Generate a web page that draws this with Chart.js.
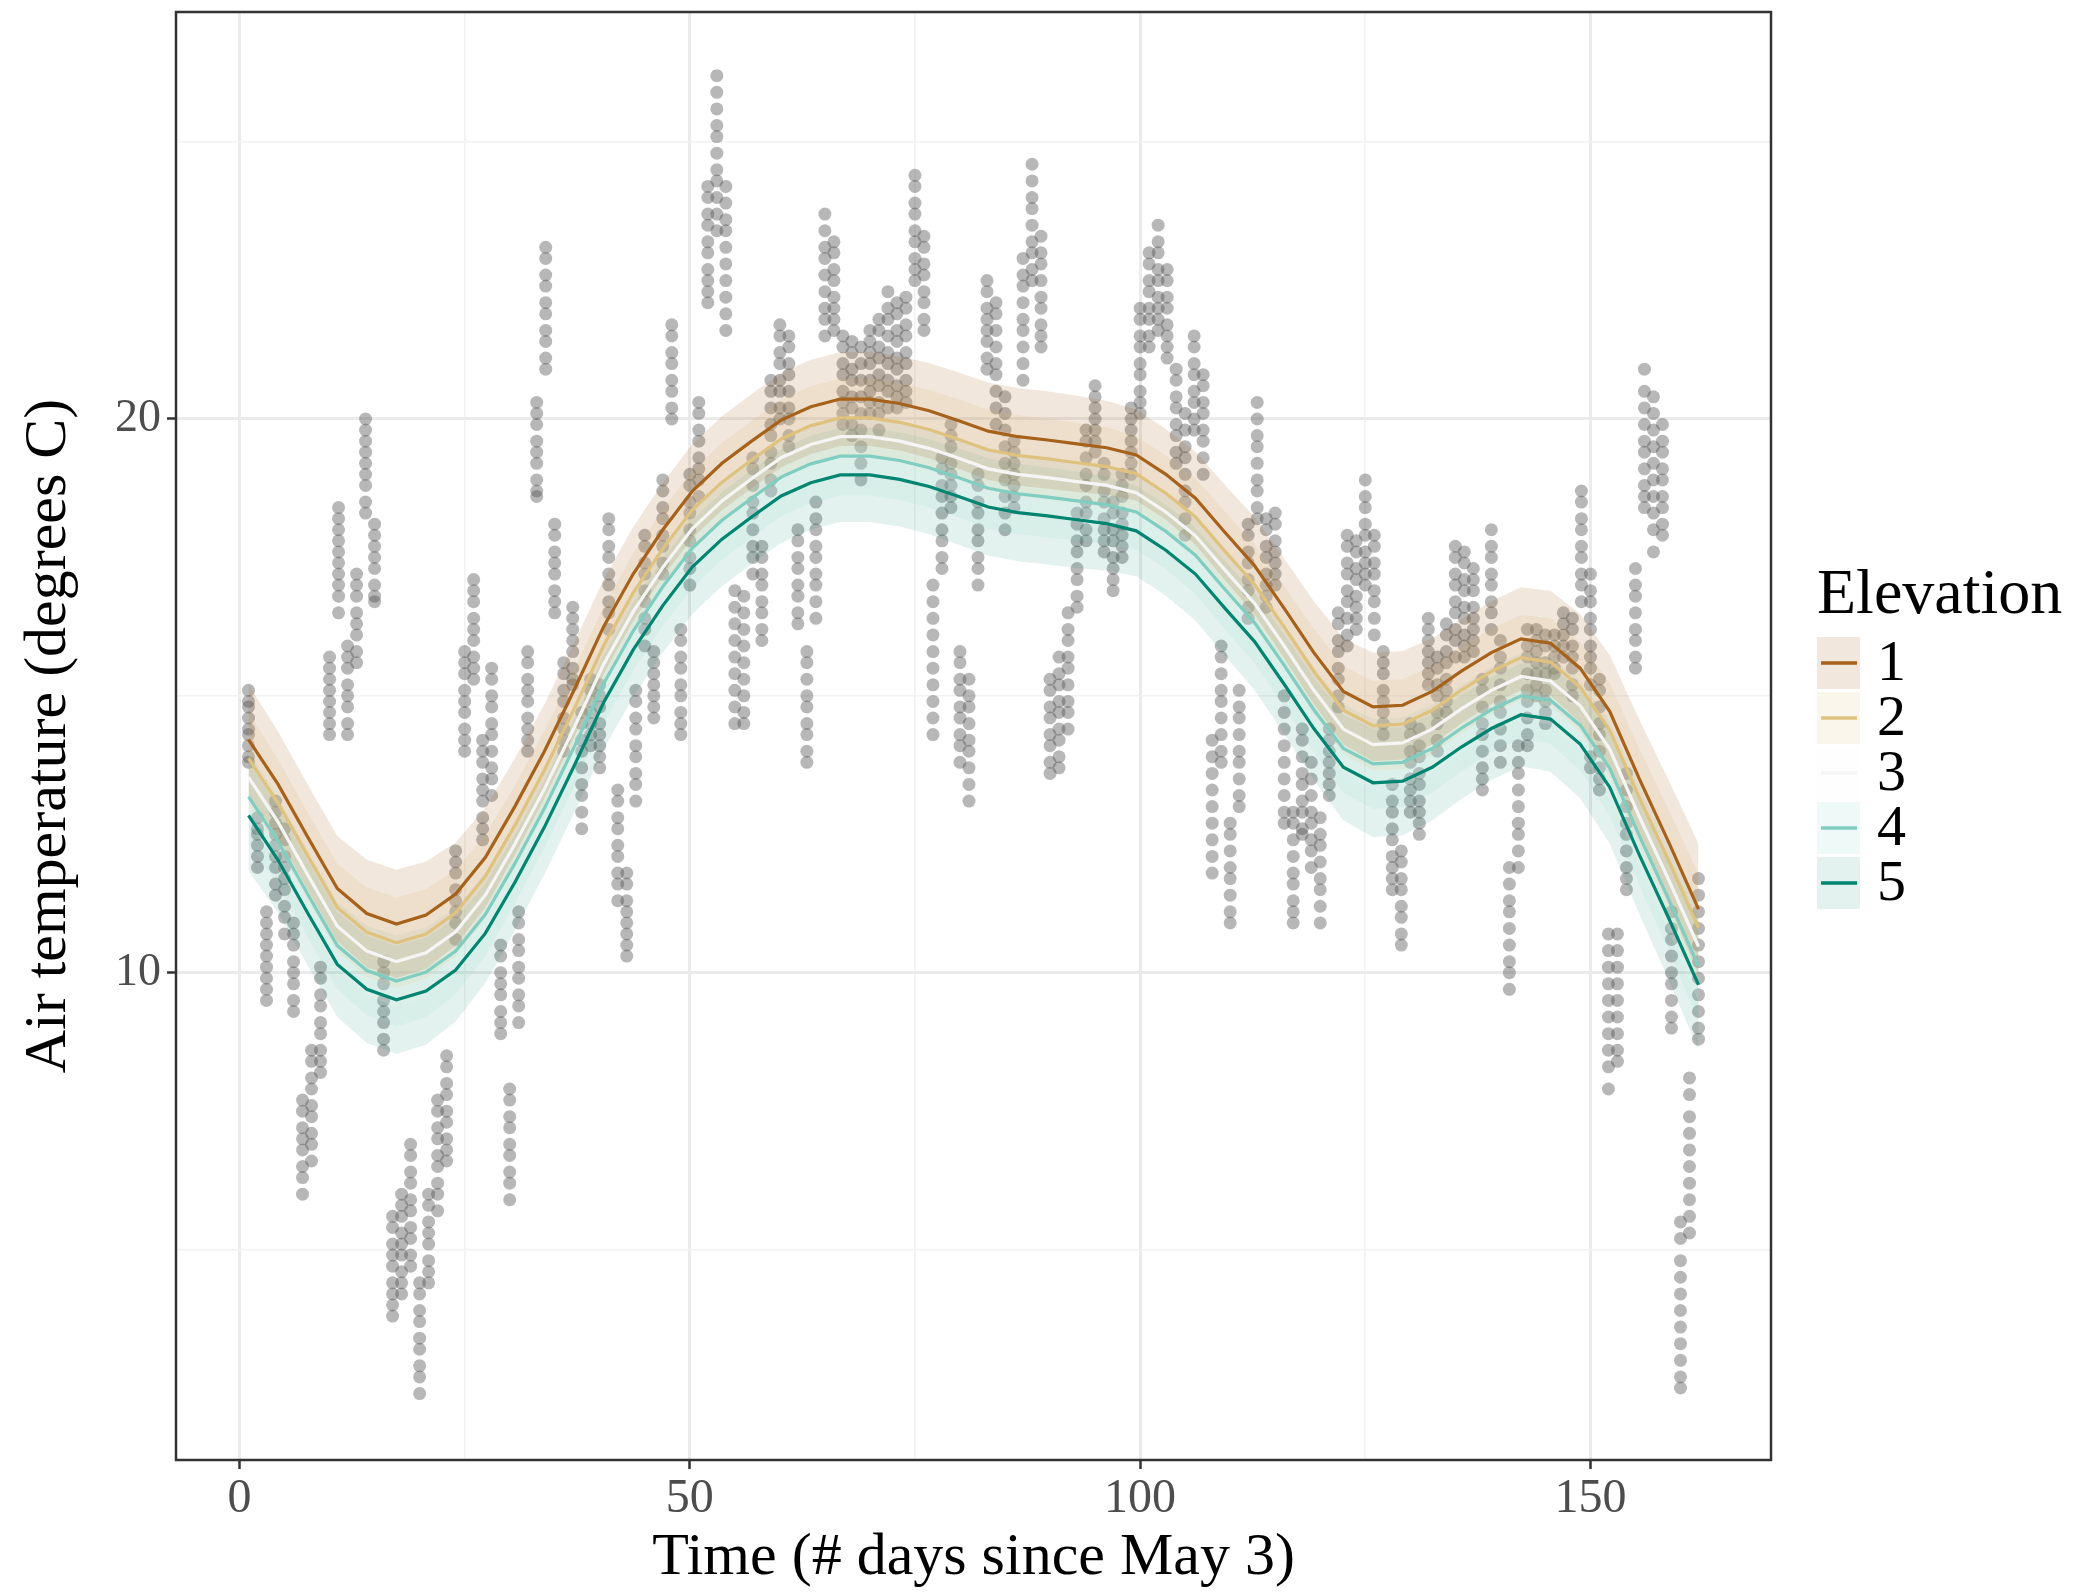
<!DOCTYPE html>
<html>
<head>
<meta charset="utf-8">
<title>Air temperature by elevation</title>
<script src="https://cdn.jsdelivr.net/npm/chart.js@4.4.1/dist/chart.umd.min.js"></script>
<style>
  html, body { margin: 0; padding: 0; background: #ffffff; }
  #wrap { width: 2074px; height: 1594px; }
</style>
</head>
<body>
<div id="wrap"><canvas id="airTemp" width="2074" height="1594"></canvas></div>
<script>
// ---- observed air temperatures, one column of readings per day ----
const obsDays = [
  1, 2, 3, 4, 5, 6, 7, 8, 9, 10, 11, 12, 13, 14, 15, 16, 17, 18, 19, 20,
  21, 22, 23, 24, 25, 26, 27, 28, 29, 30, 31, 32, 33, 34, 35, 36, 37, 38, 39, 40,
  41, 42, 43, 44, 45, 46, 47, 48, 49, 50, 51, 52, 53, 54, 55, 56, 57, 58, 59, 60,
  61, 62, 63, 64, 65, 66, 67, 68, 69, 70, 71, 72, 73, 74, 75, 76, 77, 78, 79, 80,
  81, 82, 83, 84, 85, 86, 87, 88, 89, 90, 91, 92, 93, 94, 95, 96, 97, 98, 99, 100,
  101, 102, 103, 104, 105, 106, 107, 108, 109, 110, 111, 112, 113, 114, 115, 116, 117, 118, 119, 120,
  121, 122, 123, 124, 125, 126, 127, 128, 129, 130, 131, 132, 133, 134, 135, 136, 137, 138, 139, 140,
  141, 142, 143, 144, 145, 146, 147, 148, 149, 150, 151, 152, 153, 154, 155, 156, 157, 158, 159, 160,
  161, 162
];

const obsTemps = [
  [15.1, 14.9, 14.8, 14.6, 14.4, 14.3, 14.1, 13.9, 13.8],
  [12.8, 12.6, 12.5, 12.3, 12.1, 11.9],
  [11.1, 10.9, 10.7, 10.5, 10.3, 10.1, 9.9, 9.7, 9.5],
  [13.1, 12.9, 12.7, 12.5, 12.3, 12.1, 11.9, 11.6, 11.4],
  [12.6, 12.4, 12.1, 11.9, 11.7, 11.5, 11.2, 11.0, 10.7],
  [10.9, 10.7, 10.5, 10.2, 10.0, 9.8, 9.5, 9.3],
  [7.7, 7.5, 7.2, 7.0, 6.8, 6.5, 6.3, 6.0],
  [8.6, 8.4, 8.1, 7.9, 7.6, 7.4, 7.1, 6.9, 6.6],
  [10.1, 9.9, 9.6, 9.4, 9.1, 8.9, 8.6, 8.4, 8.2],
  [15.7, 15.5, 15.3, 15.1, 14.9, 14.7, 14.5, 14.3],
  [18.4, 18.2, 18.0, 17.8, 17.6, 17.4, 17.2, 17.0, 16.8, 16.5],
  [15.9, 15.7, 15.5, 15.2, 15.0, 14.8, 14.5, 14.3],
  [17.2, 17.0, 16.8, 16.5, 16.3, 16.1, 15.8, 15.6],
  [20.0, 19.8, 19.6, 19.4, 19.2, 19.0, 18.8, 18.5, 18.3],
  [18.1, 17.9, 17.7, 17.5, 17.3, 17.0, 16.8, 16.7],
  [10.2, 10.0, 9.8, 9.5, 9.3, 9.1, 8.8, 8.6],
  [5.6, 5.4, 5.1, 4.9, 4.7, 4.4, 4.2, 4.0, 3.8],
  [6.0, 5.8, 5.6, 5.3, 5.1, 4.9, 4.6, 4.4, 4.2],
  [6.9, 6.7, 6.4, 6.2, 5.9, 5.7, 5.4, 5.2, 4.9, 4.7],
  [4.4, 4.2, 3.9, 3.7, 3.4, 3.2, 2.9, 2.7, 2.4],
  [6.0, 5.8, 5.5, 5.3, 5.1, 4.8, 4.6, 4.4],
  [7.7, 7.5, 7.2, 7.0, 6.7, 6.5, 6.2, 6.0, 5.7],
  [8.5, 8.3, 8.0, 7.8, 7.5, 7.3, 7.0, 6.8, 6.6],
  [12.2, 12.0, 11.8, 11.5, 11.3, 11.1, 10.9, 10.6],
  [15.8, 15.6, 15.4, 15.1, 14.9, 14.7, 14.4, 14.2, 14.0],
  [17.1, 16.9, 16.7, 16.4, 16.2, 16.0, 15.7, 15.5, 15.3],
  [14.2, 14.0, 13.8, 13.5, 13.3, 13.1, 12.8, 12.6, 12.4],
  [15.5, 15.3, 15.0, 14.8, 14.5, 14.3, 14.0, 13.7, 13.5, 13.2],
  [10.5, 10.3, 10.0, 9.8, 9.6, 9.3, 9.1, 8.9],
  [7.9, 7.7, 7.4, 7.2, 6.9, 6.7, 6.4, 6.2, 5.9],
  [11.1, 10.9, 10.6, 10.4, 10.1, 9.9, 9.6, 9.4, 9.1],
  [15.8, 15.6, 15.3, 15.1, 14.9, 14.6, 14.4, 14.2, 14.0],
  [20.3, 20.1, 19.9, 19.6, 19.4, 19.2, 18.9, 18.7, 18.6],
  [23.1, 22.9, 22.6, 22.4, 22.1, 21.9, 21.6, 21.4, 21.1, 20.9],
  [18.1, 17.9, 17.6, 17.4, 17.2, 16.9, 16.7, 16.5],
  [15.6, 15.4, 15.1, 14.9, 14.6, 14.4, 14.2, 14.0],
  [16.6, 16.4, 16.2, 16.0, 15.8, 15.5, 15.3, 15.2],
  [14.7, 14.5, 14.2, 14.0, 13.7, 13.4, 13.2, 12.9, 12.6],
  [15.3, 15.1, 14.9, 14.7, 14.5, 14.3, 14.1],
  [15.2, 15.0, 14.8, 14.5, 14.3, 14.1, 13.9, 13.7],
  [18.2, 18.0, 17.7, 17.5, 17.2, 17.0, 16.7, 16.5, 16.2],
  [13.3, 13.1, 12.8, 12.6, 12.3, 12.1, 11.8, 11.6, 11.3],
  [11.8, 11.6, 11.3, 11.1, 10.9, 10.7, 10.5, 10.3],
  [15.1, 14.9, 14.6, 14.4, 14.1, 13.9, 13.6, 13.4, 13.1],
  [17.9, 17.7, 17.4, 17.2, 16.9, 16.7, 16.4, 16.2, 15.9],
  [15.8, 15.6, 15.4, 15.2, 15.0, 14.8, 14.6],
  [18.9, 18.7, 18.4, 18.2, 17.9, 17.7, 17.4, 17.2],
  [21.7, 21.5, 21.2, 21.0, 20.7, 20.5, 20.2, 20.0],
  [16.2, 16.0, 15.7, 15.5, 15.2, 15.0, 14.7, 14.5, 14.3],
  [19.0, 18.8, 18.5, 18.3, 18.0, 17.8, 17.5, 17.3, 17.0],
  [20.3, 20.1, 19.8, 19.6, 19.3, 19.1, 18.9, 18.6],
  [24.2, 24.0, 23.7, 23.5, 23.2, 23.0, 22.7, 22.5, 22.3, 22.1],
  [26.2, 25.9, 25.6, 25.3, 25.1, 24.8, 24.5, 24.3, 24.0, 23.7, 23.4],
  [24.2, 23.9, 23.6, 23.4, 23.1, 22.8, 22.5, 22.2, 21.9, 21.6],
  [16.9, 16.6, 16.3, 16.0, 15.7, 15.4, 15.1, 14.8, 14.5],
  [16.8, 16.5, 16.2, 15.9, 15.6, 15.3, 15.0, 14.7, 14.5],
  [19.3, 19.1, 18.8, 18.5, 18.3, 18.0, 17.7, 17.5, 17.2],
  [17.7, 17.5, 17.2, 17.0, 16.7, 16.5, 16.2, 16.0],
  [20.7, 20.5, 20.2, 19.9, 19.7, 19.4, 19.2, 18.9, 18.7],
  [21.7, 21.5, 21.2, 21.0, 20.7, 20.5, 20.2, 20.0],
  [21.5, 21.3, 21.0, 20.8, 20.5, 20.2, 20.0, 19.7, 19.5],
  [18.0, 17.8, 17.5, 17.3, 17.0, 16.8, 16.5, 16.3],
  [15.8, 15.6, 15.3, 15.0, 14.8, 14.5, 14.3, 14.0, 13.8],
  [18.5, 18.2, 18.0, 17.7, 17.5, 17.2, 17.0, 16.7, 16.4],
  [23.7, 23.4, 23.1, 22.9, 22.6, 22.3, 22.0, 21.8, 21.5],
  [23.2, 23.0, 22.7, 22.5, 22.2, 22.0, 21.8, 21.6],
  [21.5, 21.3, 21.0, 20.8, 20.5, 20.3, 20.1, 19.9],
  [21.4, 21.2, 20.9, 20.7, 20.4, 20.2, 19.9, 19.7],
  [21.3, 21.0, 20.7, 20.4, 20.1, 19.8, 19.5, 19.2, 18.9],
  [21.6, 21.4, 21.2, 21.0, 20.7, 20.5, 20.3, 20.1],
  [21.8, 21.6, 21.3, 21.1, 20.8, 20.6, 20.3, 20.1, 19.8],
  [22.3, 22.0, 21.8, 21.5, 21.2, 21.0, 20.7, 20.5, 20.2],
  [22.1, 21.9, 21.6, 21.4, 21.1, 20.9, 20.6, 20.4, 20.2],
  [22.2, 22.0, 21.7, 21.5, 21.2, 21.0, 20.7, 20.5, 20.3],
  [24.4, 24.2, 23.9, 23.7, 23.4, 23.2, 22.9, 22.7, 22.5],
  [23.3, 23.1, 22.8, 22.6, 22.3, 22.1, 21.8, 21.6],
  [17.0, 16.7, 16.4, 16.1, 15.8, 15.5, 15.2, 14.9, 14.6, 14.3],
  [19.3, 19.1, 18.8, 18.6, 18.3, 18.0, 17.8, 17.5, 17.3],
  [19.9, 19.7, 19.5, 19.2, 19.0, 18.8, 18.6, 18.4],
  [15.8, 15.6, 15.3, 15.1, 14.8, 14.6, 14.3, 14.1, 13.8],
  [15.3, 15.0, 14.8, 14.5, 14.2, 14.0, 13.7, 13.4, 13.1],
  [19.0, 18.8, 18.5, 18.3, 18.0, 17.8, 17.5, 17.3, 17.0],
  [22.5, 22.3, 22.0, 21.8, 21.6, 21.4, 21.1, 20.9],
  [22.1, 21.9, 21.6, 21.3, 21.0, 20.8, 20.5, 20.2, 19.9],
  [20.4, 20.1, 19.8, 19.5, 19.2, 18.9, 18.6, 18.3, 18.0],
  [19.6, 19.4, 19.2, 19.0, 18.8, 18.6, 18.4],
  [22.9, 22.6, 22.4, 22.1, 21.8, 21.6, 21.3, 21.0, 20.7],
  [24.6, 24.3, 24.0, 23.8, 23.5, 23.2, 23.0, 22.7, 22.5],
  [23.3, 23.0, 22.8, 22.5, 22.2, 22.0, 21.7, 21.5, 21.3],
  [15.3, 15.1, 14.8, 14.6, 14.3, 14.1, 13.8, 13.6],
  [15.7, 15.4, 15.2, 14.9, 14.7, 14.4, 14.2, 13.9, 13.7],
  [16.5, 16.2, 16.0, 15.7, 15.5, 15.2, 14.9, 14.7, 14.4],
  [18.3, 18.1, 17.8, 17.6, 17.3, 17.1, 16.8, 16.6],
  [19.8, 19.6, 19.3, 19.0, 18.8, 18.5, 18.3, 18.0, 17.8],
  [20.6, 20.4, 20.2, 20.0, 19.8, 19.6, 19.4],
  [19.2, 19.0, 18.7, 18.5, 18.2, 18.0, 17.8, 17.6],
  [18.5, 18.3, 18.0, 17.8, 17.5, 17.3, 17.1, 16.9],
  [19.0, 18.8, 18.6, 18.3, 18.1, 17.9, 17.7, 17.5],
  [20.2, 20.0, 19.8, 19.6, 19.4, 19.2, 19.0],
  [22.0, 21.8, 21.5, 21.3, 21.0, 20.8, 20.5, 20.3, 20.1],
  [23.0, 22.8, 22.5, 22.3, 22.0, 21.8, 21.5, 21.3],
  [23.5, 23.2, 23.0, 22.7, 22.5, 22.2, 22.0, 21.8, 21.6],
  [22.7, 22.5, 22.2, 22.0, 21.7, 21.5, 21.3, 21.1],
  [20.9, 20.7, 20.4, 20.2, 19.9, 19.7, 19.4, 19.2],
  [20.1, 19.8, 19.5, 19.3, 19.0, 18.7, 18.5, 18.2, 17.9],
  [21.5, 21.3, 21.0, 20.8, 20.5, 20.3, 20.0, 19.8],
  [20.8, 20.6, 20.3, 20.1, 19.8, 19.6, 19.3, 19.0],
  [14.2, 13.9, 13.6, 13.3, 13.0, 12.7, 12.4, 12.1, 11.8],
  [15.9, 15.7, 15.4, 15.1, 14.9, 14.6, 14.3, 14.0, 13.8],
  [12.7, 12.5, 12.2, 11.9, 11.7, 11.4, 11.1, 10.9],
  [15.1, 14.8, 14.6, 14.3, 14.0, 13.8, 13.5, 13.2, 13.0],
  [18.1, 17.9, 17.6, 17.4, 17.1, 16.9, 16.6, 16.4],
  [20.3, 20.0, 19.7, 19.5, 19.2, 18.9, 18.7, 18.4, 18.2],
  [18.2, 18.0, 17.7, 17.5, 17.2, 17.0, 16.8, 16.6],
  [18.3, 18.1, 17.8, 17.6, 17.4, 17.2, 17.0],
  [15.0, 14.7, 14.4, 14.1, 13.8, 13.5, 13.2, 12.9, 12.7],
  [12.9, 12.7, 12.4, 12.1, 11.8, 11.6, 11.3, 11.1, 10.9],
  [14.4, 14.2, 13.9, 13.6, 13.4, 13.1, 12.9, 12.6, 12.5],
  [13.8, 13.5, 13.2, 12.9, 12.7, 12.4, 12.2, 11.9],
  [12.8, 12.5, 12.3, 12.0, 11.7, 11.5, 11.2, 10.9],
  [14.4, 14.2, 14.0, 13.8, 13.6, 13.4, 13.2],
  [16.5, 16.3, 16.0, 15.8, 15.5, 15.3, 15.0, 14.8],
  [17.9, 17.7, 17.4, 17.2, 16.9, 16.7, 16.4, 16.1, 15.9],
  [17.8, 17.6, 17.3, 17.1, 16.8, 16.6, 16.4, 16.2],
  [18.9, 18.6, 18.4, 18.1, 17.9, 17.6, 17.4, 17.2, 17.0],
  [17.9, 17.7, 17.4, 17.2, 16.9, 16.7, 16.4, 16.1],
  [15.8, 15.6, 15.4, 15.1, 14.9, 14.7, 14.5, 14.3],
  [13.4, 13.1, 12.9, 12.6, 12.4, 12.1, 11.9, 11.7, 11.5],
  [12.2, 12.0, 11.7, 11.5, 11.2, 11.0, 10.7, 10.5],
  [14.5, 14.3, 14.0, 13.8, 13.5, 13.3, 13.1, 12.9],
  [14.4, 14.1, 13.9, 13.6, 13.4, 13.1, 12.9, 12.7, 12.5],
  [16.4, 16.2, 16.0, 15.8, 15.6, 15.4, 15.2],
  [15.7, 15.5, 15.2, 15.0, 14.7, 14.5, 14.2, 14.0],
  [16.3, 16.1, 15.8, 15.6, 15.3, 15.1, 14.9, 14.7],
  [17.7, 17.5, 17.2, 17.0, 16.7, 16.5, 16.2, 16.0, 15.7],
  [17.6, 17.4, 17.1, 16.9, 16.6, 16.4, 16.1, 15.9, 15.7],
  [17.3, 17.1, 16.9, 16.6, 16.4, 16.2, 16.0, 15.8],
  [15.3, 15.1, 14.8, 14.5, 14.3, 14.0, 13.7, 13.5, 13.3],
  [18.0, 17.7, 17.5, 17.2, 17.0, 16.7, 16.5, 16.2],
  [16.0, 15.7, 15.5, 15.2, 14.9, 14.7, 14.4, 14.1, 13.8],
  [11.9, 11.6, 11.3, 11.1, 10.8, 10.5, 10.2, 10.0, 9.7],
  [14.1, 13.8, 13.6, 13.3, 13.0, 12.7, 12.5, 12.2, 11.9],
  [16.2, 15.9, 15.7, 15.4, 15.1, 14.9, 14.6, 14.3, 14.1],
  [16.2, 16.0, 15.8, 15.6, 15.4, 15.2, 15.0],
  [16.1, 15.9, 15.6, 15.4, 15.1, 14.9, 14.7, 14.5],
  [16.1, 15.9, 15.7, 15.5, 15.4],
  [16.5, 16.3, 16.1, 15.9, 15.7],
  [16.4, 16.2, 15.9, 15.7, 15.5, 15.2, 15.0],
  [18.7, 18.5, 18.2, 18.0, 17.7, 17.5, 17.2, 17.0, 16.7],
  [17.2, 16.9, 16.7, 16.4, 16.2, 15.9, 15.7, 15.5, 15.2, 13.9, 13.7],
  [15.3, 15.1, 14.8, 14.5, 14.3, 14.0, 13.7, 13.5, 13.3],
  [10.7, 10.4, 10.1, 9.8, 9.5, 9.2, 8.9, 8.6, 8.3, 7.9],
  [10.7, 10.4, 10.1, 9.8, 9.5, 9.2, 8.9, 8.6, 8.4],
  [13.6, 13.3, 13.0, 12.7, 12.5, 12.2, 11.9, 11.7, 11.5],
  [17.3, 17.0, 16.8, 16.5, 16.2, 16.0, 15.7, 15.5],
  [20.9, 20.5, 20.2, 19.9, 19.6, 19.4, 19.1, 18.8, 18.6, 18.4],
  [20.4, 20.1, 19.8, 19.5, 19.2, 18.9, 18.6, 18.3, 18.0, 17.6],
  [19.9, 19.6, 19.4, 19.1, 18.9, 18.6, 18.4, 18.1, 17.9],
  [11.1, 10.8, 10.6, 10.3, 10.0, 9.8, 9.5, 9.2, 9.0],
  [5.5, 5.2, 4.8, 4.5, 4.2, 3.9, 3.6, 3.3, 3.0, 2.7, 2.5],
  [8.1, 7.8, 7.4, 7.1, 6.8, 6.5, 6.2, 5.9, 5.6, 5.3],
  [11.7, 11.4, 11.1, 10.8, 10.5, 10.2, 9.9, 9.6, 9.3, 9.0, 8.8]
];

// ---- smooth fits per elevation class, evaluated on 50 days ----
const fitDays = [
  1, 4.29, 7.57, 10.86, 14.14, 17.43, 20.71, 24, 27.29, 30.57,
  33.86, 37.14, 40.43, 43.71, 47, 50.29, 53.57, 56.86, 60.14, 63.43,
  66.71, 70, 73.29, 76.57, 79.86, 83.14, 86.43, 89.71, 93, 96.29,
  99.57, 102.86, 106.14, 109.43, 112.71, 116, 119.29, 122.57, 125.86, 129.14,
  132.43, 135.71, 139, 142.29, 145.57, 148.86, 152.14, 155.43, 158.71, 162
];

const fitElev1 = [14.21, 13.40, 12.45, 11.52, 11.07, 10.88, 11.04, 11.42, 12.08, 13.00,
  14.00, 15.10, 16.25, 17.20, 18.00, 18.70, 19.20, 19.60, 19.98, 20.22,
  20.36, 20.36, 20.28, 20.15, 19.97, 19.78, 19.68, 19.62, 19.55, 19.48,
  19.35, 19.00, 18.57, 17.95, 17.35, 16.58, 15.78, 15.08, 14.80, 14.83,
  15.08, 15.45, 15.78, 16.03, 15.95, 15.50, 14.72, 13.50, 12.35, 11.15];
const fitElev2 = [13.87, 13.06, 12.11, 11.18, 10.73, 10.54, 10.70, 11.08, 11.74, 12.66,
  13.66, 14.76, 15.91, 16.86, 17.66, 18.36, 18.86, 19.26, 19.64, 19.88,
  20.02, 20.02, 19.94, 19.81, 19.63, 19.44, 19.34, 19.28, 19.21, 19.14,
  19.01, 18.66, 18.23, 17.61, 17.01, 16.24, 15.44, 14.74, 14.46, 14.49,
  14.74, 15.11, 15.44, 15.69, 15.61, 15.16, 14.38, 13.16, 12.01, 10.81];
const fitElev3 = [13.53, 12.72, 11.77, 10.84, 10.39, 10.20, 10.36, 10.74, 11.40, 12.32,
  13.32, 14.42, 15.57, 16.52, 17.32, 18.02, 18.52, 18.92, 19.30, 19.54,
  19.68, 19.68, 19.60, 19.47, 19.29, 19.10, 19.00, 18.94, 18.87, 18.80,
  18.67, 18.32, 17.89, 17.27, 16.67, 15.90, 15.10, 14.40, 14.12, 14.15,
  14.40, 14.77, 15.10, 15.35, 15.27, 14.82, 14.04, 12.82, 11.67, 10.47];
const fitElev4 = [13.18, 12.37, 11.42, 10.49, 10.04, 9.85, 10.01, 10.39, 11.05, 11.97,
  12.97, 14.07, 15.22, 16.17, 16.97, 17.67, 18.17, 18.57, 18.95, 19.19,
  19.33, 19.33, 19.25, 19.12, 18.94, 18.75, 18.65, 18.59, 18.52, 18.45,
  18.32, 17.97, 17.54, 16.92, 16.32, 15.55, 14.75, 14.05, 13.77, 13.80,
  14.05, 14.42, 14.75, 15.00, 14.92, 14.47, 13.69, 12.47, 11.32, 10.12];
const fitElev5 = [12.84, 12.03, 11.08, 10.15, 9.70, 9.51, 9.67, 10.05, 10.71, 11.63,
  12.63, 13.73, 14.88, 15.83, 16.63, 17.33, 17.83, 18.23, 18.61, 18.85,
  18.99, 18.99, 18.91, 18.78, 18.60, 18.41, 18.31, 18.25, 18.18, 18.11,
  17.98, 17.63, 17.20, 16.58, 15.98, 15.21, 14.41, 13.71, 13.43, 13.46,
  13.71, 14.08, 14.41, 14.66, 14.58, 14.13, 13.35, 12.13, 10.98, 9.78];

// half-width of the confidence ribbons (outer classes 1 and 5, inner classes 2-4)
const ciOuter = [1.00, 0.95, 0.95, 0.95, 0.97, 0.98, 0.97, 0.93, 0.90, 0.87,
  0.85, 0.85, 0.85, 0.85, 0.85, 0.85, 0.85, 0.85, 0.85, 0.85,
  0.85, 0.85, 0.85, 0.86, 0.87, 0.88, 0.88, 0.88, 0.87, 0.85,
  0.82, 0.82, 0.84, 0.86, 0.88, 0.90, 0.93, 0.96, 0.98, 0.98,
  0.96, 0.94, 0.93, 0.93, 0.95, 0.98, 1.02, 1.07, 1.12, 1.18];
const ciInner = [0.83, 0.79, 0.79, 0.79, 0.81, 0.82, 0.81, 0.78, 0.75, 0.72,
  0.71, 0.71, 0.71, 0.71, 0.71, 0.71, 0.71, 0.71, 0.71, 0.71,
  0.71, 0.71, 0.71, 0.72, 0.72, 0.73, 0.73, 0.73, 0.72, 0.71,
  0.68, 0.68, 0.70, 0.72, 0.73, 0.75, 0.77, 0.80, 0.81, 0.81,
  0.80, 0.78, 0.77, 0.77, 0.79, 0.81, 0.85, 0.89, 0.93, 0.98];

const elevLabels = ['1', '2', '3', '4', '5'];
const lineColors = ['#A6611A', '#DFC27D', '#F5F5F5', '#80CDC1', '#018571'];
const ribbonColors = ['rgba(166,97,26,0.15)', 'rgba(223,194,125,0.15)', 'rgba(245,245,245,0.15)',
  'rgba(128,205,193,0.13)', 'rgba(1,133,113,0.11)'];

const xTicks = [0, 25, 50, 75, 100, 125, 150];
const xMajor = [0, 50, 100, 150];
const yTicks = [5, 10, 15, 20, 25];
const yMajor = [10, 20];

const SERIF = "'Liberation Serif', 'Times New Roman', serif";

// ---- datasets ----
const fits = [fitElev1, fitElev2, fitElev3, fitElev4, fitElev5];
const ciOf = [ciOuter, ciInner, ciInner, ciInner, ciOuter];

const datasets = [];

fits.forEach((fit, i) => {
  datasets.push({
    label: 'Elevation ' + elevLabels[i],
    data: fitDays.map((d, k) => ({ x: d, y: fit[k] })),
    borderColor: lineColors[i],
    borderWidth: 3.2,
    pointRadius: 0,
    fill: false,
    tension: 0,
    order: 0,
  });
});

fits.forEach((fit, i) => {
  const lowIndex = datasets.length;
  datasets.push({
    label: 'lower ' + elevLabels[i],
    data: fitDays.map((d, k) => ({ x: d, y: fit[k] - ciOf[i][k] })),
    borderWidth: 0,
    borderColor: 'rgba(0,0,0,0)',
    pointRadius: 0,
    fill: false,
    order: 1,
  });
  datasets.push({
    label: 'upper ' + elevLabels[i],
    data: fitDays.map((d, k) => ({ x: d, y: fit[k] + ciOf[i][k] })),
    borderWidth: 0,
    borderColor: 'rgba(0,0,0,0)',
    backgroundColor: ribbonColors[i],
    pointRadius: 0,
    fill: { target: lowIndex },
    order: 1,
  });
});

const obsPoints = [];
obsDays.forEach((d, i) => {
  obsTemps[i].forEach(t => obsPoints.push({ x: d, y: t }));
});

datasets.push({
  label: 'observed',
  data: obsPoints,
  showLine: false,
  pointRadius: 6.5,
  pointHoverRadius: 6.5,
  pointBorderWidth: 0,
  pointBackgroundColor: 'rgba(75,75,75,0.4)',
  order: 2,
});

// panel frame like theme_bw
const panelBorder = {
  id: 'panelBorder',
  afterDatasetsDraw(chart) {
    const { ctx, chartArea: a } = chart;
    ctx.save();
    ctx.strokeStyle = '#333333';
    ctx.lineWidth = 2.5;
    ctx.strokeRect(a.left, a.top, a.right - a.left, a.bottom - a.top);
    ctx.restore();
  }
};

// legend with filled keys and a line through each
const elevLegend = {
  id: 'elevLegend',
  afterDraw(chart) {
    const ctx = chart.ctx;
    const left = chart.chartArea.right + 46;
    ctx.save();
    ctx.fillStyle = '#000000';
    ctx.font = '64px ' + SERIF;
    ctx.textAlign = 'left';
    ctx.textBaseline = 'alphabetic';
    ctx.fillText('Elevation', left, 613);

    elevLabels.forEach((lab, i) => {
      const top = 637 + i * 55;
      const mid = top + 26;
      ctx.fillStyle = '#ffffff';
      ctx.fillRect(left, top, 43, 52);
      ctx.fillStyle = ribbonColors[i];
      ctx.fillRect(left, top, 43, 52);
      ctx.strokeStyle = lineColors[i];
      ctx.lineWidth = 3.5;
      ctx.beginPath();
      ctx.moveTo(left + 4, mid);
      ctx.lineTo(left + 40, mid);
      ctx.stroke();
      ctx.fillStyle = '#000000';
      ctx.font = '58px ' + SERIF;
      ctx.textBaseline = 'middle';
      ctx.fillText(lab, left + 60, mid + 2);
    });
    ctx.restore();
  }
};

const ctx = document.getElementById('airTemp').getContext('2d');

const airChart = new Chart(ctx, {
  type: 'line',
  data: { datasets: datasets },
  options: {
    responsive: false,
    devicePixelRatio: 1,
    animation: false,
    layout: { padding: { top: 12, right: 303, left: 0, bottom: 0 } },
    plugins: {
      legend: { display: false },
      tooltip: { enabled: false },
    },
    scales: {
      x: {
        type: 'linear',
        min: -7.05,
        max: 170.05,
        afterBuildTicks: (scale) => { scale.ticks = xTicks.map(v => ({ value: v })); },
        afterFit: (scale) => {
          scale.height = 134;
          scale.paddingLeft = 0;
          scale.paddingRight = 0;
        },
        border: { display: false },
        grid: {
          color: (c) => xMajor.includes(c.tick && c.tick.value) ? '#EBEBEB' : '#F2F2F2',
          lineWidth: (c) => xMajor.includes(c.tick && c.tick.value) ? 3 : 1.6,
          tickLength: 9,
          tickWidth: 2.5,
          tickColor: (c) => xMajor.includes(c.tick && c.tick.value) ? '#333333' : 'rgba(0,0,0,0)',
        },
        ticks: {
          autoSkip: false,
          maxRotation: 0,
          padding: 2,
          color: '#4D4D4D',
          font: { family: SERIF, size: 48 },
          callback: (v) => xMajor.includes(v) ? String(v) : '',
        },
        title: {
          display: true,
          text: 'Time (# days since May 3)',
          color: '#000000',
          font: { family: SERIF, size: 60 },
          padding: { top: 0, bottom: 0 },
        },
      },
      y: {
        type: 'linear',
        min: 1.2,
        max: 27.35,
        afterBuildTicks: (scale) => { scale.ticks = yTicks.map(v => ({ value: v })); },
        afterFit: (scale) => {
          scale.width = 176;
          scale.paddingTop = 0;
          scale.paddingBottom = 0;
        },
        border: { display: false },
        grid: {
          color: (c) => yMajor.includes(c.tick && c.tick.value) ? '#EBEBEB' : '#F2F2F2',
          lineWidth: (c) => yMajor.includes(c.tick && c.tick.value) ? 3 : 1.6,
          tickLength: 9,
          tickWidth: 2.5,
          tickColor: (c) => yMajor.includes(c.tick && c.tick.value) ? '#333333' : 'rgba(0,0,0,0)',
        },
        ticks: {
          autoSkip: false,
          padding: 6,
          color: '#4D4D4D',
          font: { family: SERIF, size: 46 },
          callback: (v) => yMajor.includes(v) ? String(v) : '',
        },
        title: {
          display: true,
          text: 'Air temperature (degrees C)',
          color: '#000000',
          font: { family: SERIF, size: 60 },
          padding: { top: 13, bottom: 0 },
        },
      },
    },
  },
  plugins: [panelBorder, elevLegend],
});
</script>
</body>
</html>
